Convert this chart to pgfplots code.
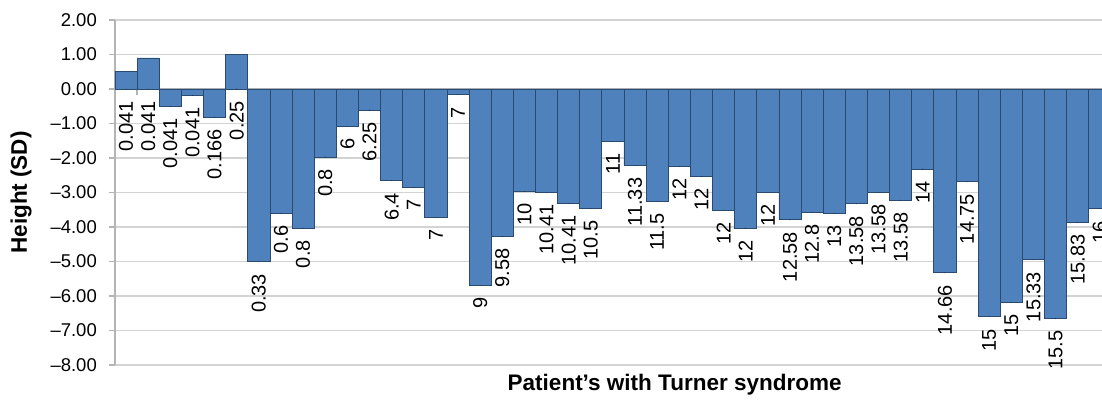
\documentclass[border=0pt]{standalone}
\usepackage{pgfplots}
\pgfplotsset{compat=1.18}
\usepackage{pgfplotstable}
\usepackage{fontspec}
\setmainfont{Liberation Sans}

\definecolor{barblue}{HTML}{4F81BD}
\definecolor{baredge}{HTML}{2B4A70}
\definecolor{gridgray}{HTML}{D3D3D3}
\definecolor{axisgray}{HTML}{B4B4B4}

% patient index, height SD, age label
\pgfplotstableread{
x v lab
0 0.52 0.041
1 0.90 0.041
2 -0.50 0.041
3 -0.19 0.041
4 -0.81 0.166
5 1.00 0.25
6 -5.01 0.33
7 -3.60 0.6
8 -4.03 0.8
9 -1.97 0.8
10 -1.08 6
11 -0.61 6.25
12 -2.66 6.4
13 -2.85 7
14 -3.72 7
15 -0.17 7
16 -5.69 9
17 -4.27 9.58
18 -2.97 10
19 -2.99 10.41
20 -3.32 10.41
21 -3.46 10.5
22 -1.52 11
23 -2.22 11.33
24 -3.25 11.5
25 -2.24 12
26 -2.53 12
27 -3.51 12
28 -4.03 12
29 -2.99 12
30 -3.79 12.58
31 -3.57 12.8
32 -3.60 13
33 -3.33 13.58
34 -2.99 13.58
35 -3.22 13.58
36 -2.32 14
37 -5.33 14.66
38 -2.69 14.75
39 -6.60 15
40 -6.18 15
41 -4.95 15.33
42 -6.65 15.5
43 -3.87 15.83
44 -3.47 16
}\heights

\begin{document}
\begin{tikzpicture}
  \begin{axis}[
    scale only axis,
    width=987bp, height=345bp,
    xmin=-0.5, xmax=44.1,
    ymin=-8, ymax=2,
    clip=false,
    axis y line*=left,
    axis x line*=middle,
    ytick={-8,-7,...,2},
    yticklabels={\textendash8.00,\textendash7.00,\textendash6.00,\textendash5.00,
      \textendash4.00,\textendash3.00,\textendash2.00,\textendash1.00,0.00,1.00,2.00},
    xtick={-0.5,0.5,...,44.5},
    xticklabels={},
    tick align=outside,
    major tick length=6bp,
    tick style={axisgray, line width=1.5bp},
    axis line style={axisgray, line width=1.5bp},
    ymajorgrids,
    grid style={gridgray, line width=1.8bp},
    yticklabel style={font=\fontsize{18.5bp}{20bp}\selectfont, inner sep=0pt, xshift=-12bp},
    xlabel={Patient’s with Turner syndrome},
    ylabel={Height (SD)},
    every axis x label/.style={at={(axis description cs:0.567,0)}, anchor=base,
      yshift=-25bp, font=\bfseries\fontsize{22.5bp}{24bp}\selectfont},
    every axis y label/.style={at={(axis description cs:0,0.5)}, xshift=-94bp,
      rotate=90, anchor=center, font=\bfseries\fontsize{22.5bp}{24bp}\selectfont},
  ]
    \addplot[ybar, bar width=1, fill=barblue, draw=baredge, line width=0.8bp]
      table[x=x, y=v] {\heights};

    \addplot[only marks, mark=*, mark size=0.01pt, mark options={draw=none, fill=none},
      nodes near coords, point meta=explicit symbolic,
      nodes near coords align={east},
      every node near coord/.append style={font=\fontsize{20bp}{22bp}\selectfont,
        black, anchor=east, inner xsep=12bp, inner ysep=0pt, rotate=90}]
      table[x=x, y expr={min(\thisrow{v},0)}, meta=lab] {\heights};
  \end{axis}
  \pgfresetboundingbox
  \path[use as bounding box] (-115bp,-39bp) rectangle (987bp,365bp);
\end{tikzpicture}
\end{document}
